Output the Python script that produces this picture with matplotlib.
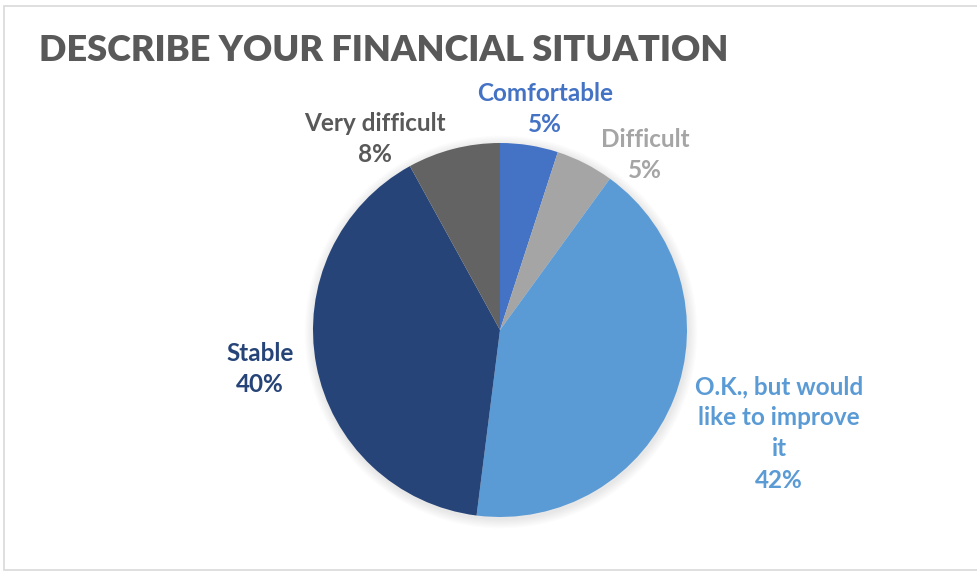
import matplotlib.pyplot as plt
from matplotlib.patches import Rectangle, Circle

W, H = 978, 575

categories = ["Comfortable", "Difficult", "O.K., but would\nlike to improve\nit", "Stable", "Very difficult"]
shares = [5, 5, 42, 40, 8]
colors = ["#4472C4", "#A5A5A5", "#5B9BD5", "#264478", "#636363"]
label_colors = ["#4472C4", "#A5A5A5", "#5B9BD5", "#264478", "#595959"]
# label anchor points in pixels (x, top y)
label_pos = [(545, 82), (645, 128), (779, 375), (260, 342), (375, 112)]

plt.rcParams['font.family'] = ['Lato', 'DejaVu Sans']

fig = plt.figure(figsize=(W / 100, H / 100), dpi=100)
ax = fig.add_axes([0, 0, 1, 1])
ax.set_xlim(0, W)
ax.set_ylim(0, H)
ax.axis('off')

# outer frame
ax.add_patch(Rectangle((4, 5), W - 4, H - 11, fill=False, edgecolor="#D9D9D9", lw=1.2))

cx, cy, r = 500, H - 330, 187

# soft shadow under the pie
for i in range(8):
    ax.add_patch(Circle((cx + 1, cy - 2), r + 1 + i * 1.2, color="black",
                        alpha=0.012, lw=0, zorder=1))

ax.pie(shares, colors=colors, startangle=90, counterclock=False,
       center=(cx, cy), radius=r, wedgeprops=dict(linewidth=0, zorder=2))
ax.set_xlim(0, W)
ax.set_ylim(0, H)
ax.set_aspect('equal')

for name, val, col, (px, py) in zip(categories, shares, label_colors, label_pos):
    ax.text(px, H - py, f"{name}\n{val}%", ha="center", va="top", color=col,
            fontsize=17.5, fontweight="bold", linespacing=1.43)

ax.text(39, H - 50, "DESCRIBE YOUR FINANCIAL SITUATION", ha="left", va="center",
        color="#595959", fontsize=26, fontweight="heavy")

fig.savefig("out.png", dpi=100)
